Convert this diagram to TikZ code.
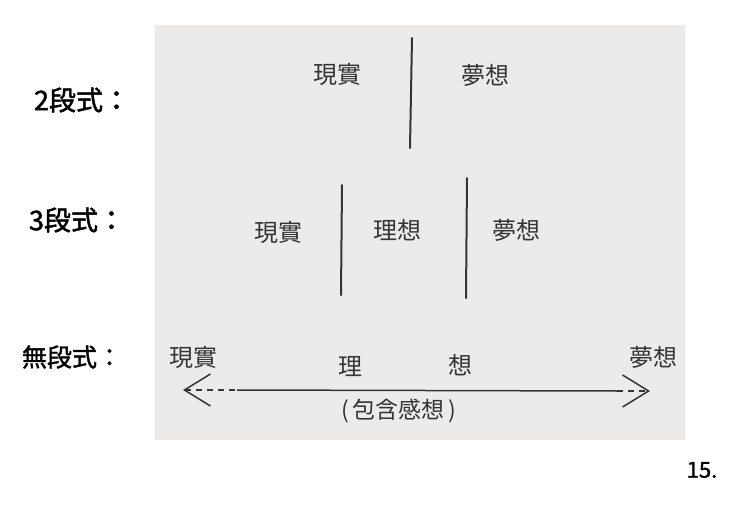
\documentclass[tikz,border=0pt]{standalone}
\usepackage{fontspec}
\usepackage{tikz}
\usetikzlibrary{arrows.meta}
\newfontfamily\cjk{Noto Sans CJK JP}
\newfontfamily\cjkheavy[FakeBold=1.6]{Noto Sans CJK JP}
\definecolor{paper}{HTML}{ECEBEA}
\definecolor{pencil}{HTML}{353535}
\tikzset{
	word/.style={font=\cjk\fontsize{24}{24}\selectfont, text=pencil, inner sep=0pt},
	rowlabel/.style={font=\cjkheavy\fontsize{27}{27}\selectfont, text=black, inner sep=0pt},
	divider/.style={draw=pencil, line width=2pt, line cap=round},
	scale line/.style={draw=pencil, line width=1.5pt},
	barb/.tip={Straight Barb[length=26pt, width=32pt, line width=1.5pt]}
}
\begin{document}
\begin{tikzpicture}[x=1pt, y=-1pt]
			%   %   %   %   %   %   %   %   %   %   %
			%   Sheet
				\useasboundingbox (0,0) rectangle (740,517);
				\fill[white] (0,0) rectangle (740,517);
				\fill[paper] (155,25) rectangle (685,440);
			%   %   %   %   %   %   %   %   %   %   %
			%   Row labels
				\node[rowlabel] (two)   at (82,100)  {2段式：};
				\node[rowlabel] (three) at (77,220)  {3段式：};
				\node[rowlabel, font=\cjkheavy\fontsize{25}{25}\selectfont] (none) at (72,357) {無段式：};
			%   %   %   %   %   %   %   %   %   %   %
			%   2 stages
				\node[word] (realA) at (337,74) {現實};
				\node[word] (dreamA) at (485,75) {夢想};
				\coordinate (cutAtop) at (412,38);
				\coordinate (cutAbot) at (410,148);
				\draw[divider] (cutAtop) -- (cutAbot);
			%   %   %   %   %   %   %   %   %   %   %
			%   3 stages
				\node[word] (realB) at (278,232) {現實};
				\node[word] (idealB) at (397,230) {理想};
				\node[word] (dreamB) at (516,230) {夢想};
				\coordinate (cutBtop) at (342,185);
				\coordinate (cutBbot) at (341,295);
				\coordinate (cutCtop) at (467,178);
				\coordinate (cutCbot) at (466,298);
				\draw[divider] (cutBtop) -- (cutBbot);
				\draw[divider] (cutCtop) -- (cutCbot);
			%   %   %   %   %   %   %   %   %   %   %
			%   No stages
				\node[word] (realC) at (193,357) {現實};
				\node[word] (dreamC) at (653,357) {夢想};
				\node[word] (idealL) at (350,367) {理};
				\node[word] (idealR) at (460,365) {想};
				\coordinate (endL) at (183,390);
				\coordinate (solidL) at (237,390);
				\coordinate (solidR) at (617,391);
				\coordinate (endR) at (650,391);
				\draw[scale line, dash pattern=on 6pt off 5pt, barb-] (endL) -- (solidL);
				\draw[scale line] (solidL) -- (solidR);
				\draw[scale line, dash pattern=on 6pt off 5pt, -barb] (solidR) -- (endR);
				\node[word, font=\cjk\fontsize{23}{23}\selectfont] (incl) at (399,411) {(\,包含感想\,)};
			%   %   %   %   %   %   %   %   %   %   %
			%   Page number
				\node[rowlabel, font=\cjkheavy\fontsize{22}{22}\selectfont] (page) at (702,470) {15.};
\end{tikzpicture}
\end{document}
